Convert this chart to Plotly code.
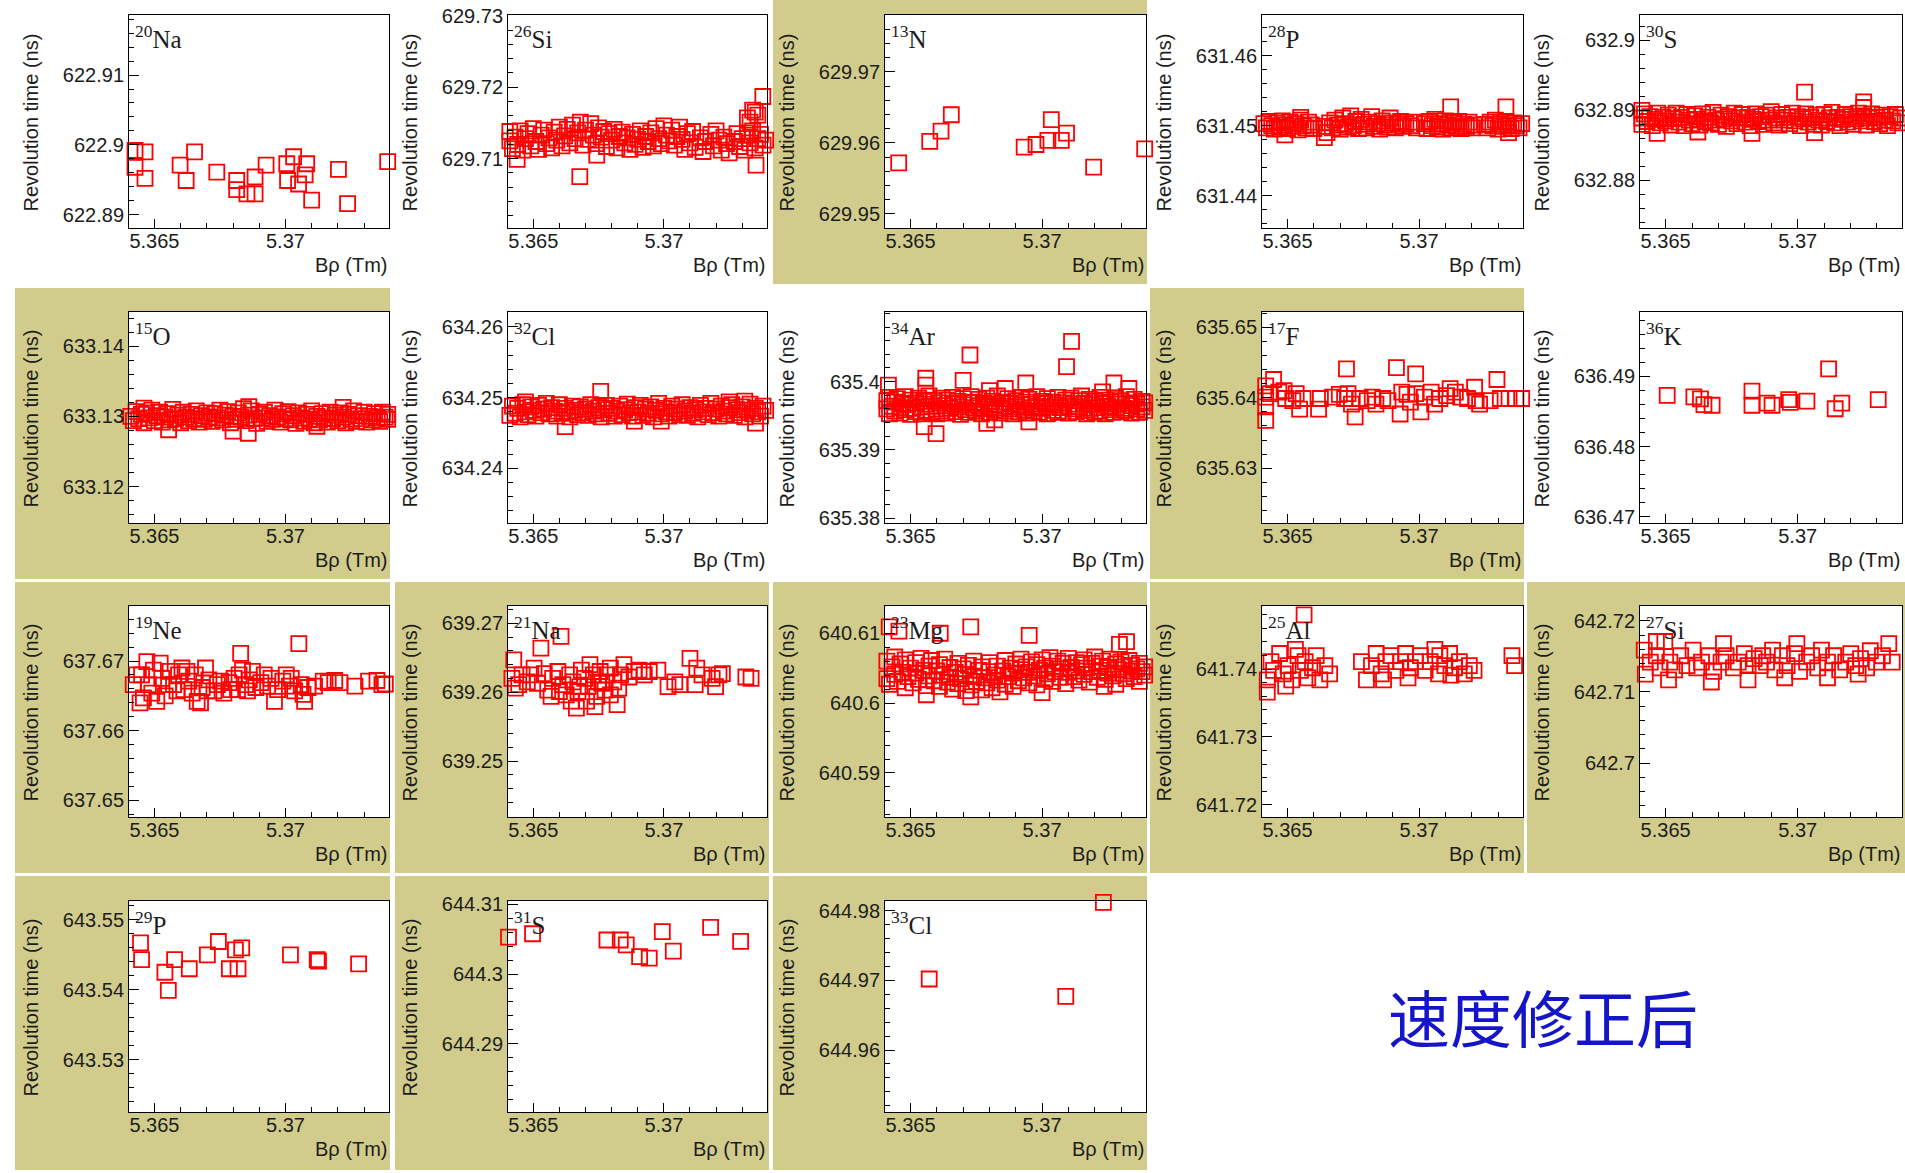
import numpy as np
import plotly.graph_objects as go

# ---------------------------------------------------------------------------
# Revolution time vs. B-rho for each nuclide (velocity-corrected)
# ---------------------------------------------------------------------------
BRHO_RANGE = [5.36403, 5.37395]
BRHO_TICKS = [5.365, 5.37]
BRHO_TICKTEXT = ["5.365", "5.37"]

MASS = ["20", "26", "13", "28", "30",
        "15", "32", "34", "17", "36",
        "19", "21", "23", "25", "27",
        "29", "31", "33"]
ELEMENT = ["Na", "Si", "N", "P", "S",
           "O", "Cl", "Ar", "F", "K",
           "Ne", "Na", "Mg", "Al", "Si",
           "P", "S", "Cl"]

Y_RANGES = [
    [622.8881, 622.9186], [629.7003, 629.7301], [629.948, 629.978], [631.4354, 631.4658], [632.8732, 632.9036],
    [633.1148, 633.1449], [634.2323, 634.2621], [635.3793, 635.4102], [635.6222, 635.6522], [636.4691, 636.4992],
    [637.6476, 637.6779], [639.2419, 639.2725], [640.5837, 640.6139], [641.7182, 641.7493], [642.6924, 642.7221],
    [643.5225, 643.5527], [644.2802, 644.3105], [644.9511, 644.9814],
]
Y_TICKTEXT = [
    ["622.89", "622.9", "622.91"], ["629.71", "629.72", "629.73"], ["629.95", "629.96", "629.97"],
    ["631.44", "631.45", "631.46"], ["632.88", "632.89", "632.9"],
    ["633.12", "633.13", "633.14"], ["634.24", "634.25", "634.26"], ["635.38", "635.39", "635.4"],
    ["635.63", "635.64", "635.65"], ["636.47", "636.48", "636.49"],
    ["637.65", "637.66", "637.67"], ["639.25", "639.26", "639.27"], ["640.59", "640.6", "640.61"],
    ["641.72", "641.73", "641.74"], ["642.7", "642.71", "642.72"],
    ["643.53", "643.54", "643.55"], ["644.29", "644.3", "644.31"], ["644.96", "644.97", "644.98"],
]

# pads drawn with the olive fill
OLIVE_PAD = [False, False, True, False, False,
             True, False, False, True, False,
             True, True, True, True, True,
             True, True, True]

NA20 = [(5.36426, 622.8992), (5.36464, 622.8990), (5.36426, 622.8968), (5.36464, 622.8952), (5.36598, 622.8971),
        (5.36621, 622.8949), (5.36653, 622.8990), (5.36738, 622.8961), (5.36814, 622.8949), (5.36814, 622.8936),
        (5.36853, 622.8930), (5.36884, 622.8930), (5.36884, 622.8954), (5.36926, 622.8971), (5.37005, 622.8973),
        (5.37031, 622.8983), (5.37008, 622.8949), (5.37050, 622.8944), (5.37081, 622.8973), (5.37075, 622.8957),
        (5.37100, 622.8921), (5.37202, 622.8965), (5.37237, 622.8916), (5.37390, 622.8976)]

SI26 = [(5.3641, 629.7125), (5.3641, 629.7138), (5.3642, 629.7114), (5.3643, 629.7130), (5.3644, 629.7120),
        (5.3645, 629.7139), (5.3646, 629.7112), (5.3647, 629.7128), (5.3648, 629.7135), (5.3649, 629.7118),
        (5.3650, 629.7142), (5.3651, 629.7124), (5.3652, 629.7113), (5.3653, 629.7133), (5.3654, 629.7140),
        (5.3655, 629.7121), (5.3656, 629.7129), (5.3657, 629.7115), (5.3658, 629.7137), (5.3659, 629.7126),
        (5.3660, 629.7144), (5.3661, 629.7118), (5.3662, 629.7132), (5.3663, 629.7141), (5.3664, 629.7122),
        (5.3665, 629.7147), (5.3666, 629.7128), (5.3667, 629.7136), (5.3668, 629.7151), (5.3669, 629.7119),
        (5.3670, 629.7140), (5.3671, 629.7127), (5.3672, 629.7149), (5.3673, 629.7133), (5.3674, 629.7121),
        (5.3675, 629.7143), (5.3676, 629.7130), (5.3677, 629.7138), (5.3678, 629.7117), (5.3679, 629.7135),
        (5.3680, 629.7126), (5.3681, 629.7141), (5.3682, 629.7115), (5.3683, 629.7131), (5.3684, 629.7137),
        (5.3685, 629.7122), (5.3686, 629.7129), (5.3687, 629.7113), (5.3688, 629.7134), (5.3689, 629.7120),
        (5.3690, 629.7127), (5.3691, 629.7139), (5.3692, 629.7116), (5.3693, 629.7131), (5.3694, 629.7124),
        (5.3695, 629.7136), (5.3696, 629.7118), (5.3697, 629.7142), (5.3698, 629.7128), (5.3699, 629.7121),
        (5.3700, 629.7146), (5.3701, 629.7133), (5.3702, 629.7125), (5.3703, 629.7140), (5.3704, 629.7119),
        (5.3705, 629.7131), (5.3706, 629.7144), (5.3707, 629.7127), (5.3708, 629.7113), (5.3709, 629.7135),
        (5.3710, 629.7122), (5.3711, 629.7138), (5.3712, 629.7116), (5.3714, 629.7129), (5.3715, 629.7110),
        (5.3716, 629.7124), (5.3718, 629.7134), (5.3719, 629.7118), (5.3720, 629.7139), (5.3721, 629.7126),
        (5.3722, 629.7112), (5.3723, 629.7130), (5.3724, 629.7121), (5.3725, 629.7108), (5.3727, 629.7124),
        (5.3728, 629.7135), (5.3729, 629.7117), (5.3730, 629.7128), (5.3731, 629.7112), (5.3732, 629.7133),
        (5.3733, 629.7122), (5.3734, 629.7139), (5.3735, 629.7115), (5.3736, 629.7128), (5.3737, 629.7134),
        (5.3738, 629.7119), (5.3739, 629.7126),
        (5.36438, 629.7099), (5.36678, 629.7075), (5.36743, 629.7105), (5.37353, 629.7091), (5.37379, 629.7187),
        (5.3734, 629.7168), (5.3736, 629.7161), (5.3732, 629.7157), (5.3735, 629.7165), (5.3733, 629.7151)]

N13 = [(5.36455, 629.95718), (5.36573, 629.96019), (5.36616, 629.96165), (5.36655, 629.96395),
       (5.36932, 629.95939), (5.36977, 629.95976), (5.37022, 629.96033), (5.37035, 629.96325),
       (5.37073, 629.96033), (5.37093, 629.96136), (5.37196, 629.95656), (5.37390, 629.95915)]

P28 = [(5.3641, 631.4503), (5.3642, 631.4497), (5.3643, 631.4506), (5.3644, 631.4500), (5.3645, 631.4495),
       (5.3646, 631.4504), (5.3647, 631.4498), (5.3648, 631.4507), (5.3649, 631.4501), (5.3650, 631.4496),
       (5.3651, 631.4505), (5.3652, 631.4499), (5.3653, 631.4503), (5.3654, 631.4494), (5.3655, 631.4508),
       (5.3656, 631.4500), (5.3657, 631.4497), (5.3658, 631.4505), (5.3659, 631.4501), (5.3660, 631.4496),
       (5.3649, 631.4487), (5.3655, 631.4512),
       (5.3664, 631.4499), (5.3665, 631.4490), (5.3666, 631.4504), (5.3667, 631.4497), (5.3668, 631.4508),
       (5.3669, 631.4501), (5.3670, 631.4495), (5.3671, 631.4511), (5.3672, 631.4503), (5.3673, 631.4498),
       (5.3674, 631.4514), (5.3675, 631.4500), (5.3676, 631.4506), (5.3677, 631.4496), (5.3678, 631.4509),
       (5.3679, 631.4502), (5.3680, 631.4497), (5.3681, 631.4505), (5.3682, 631.4513), (5.3683, 631.4499),
       (5.3684, 631.4503), (5.3685, 631.4495), (5.3686, 631.4507), (5.3687, 631.4501), (5.3688, 631.4498),
       (5.3689, 631.4511), (5.3690, 631.4504), (5.3691, 631.4497), (5.3692, 631.4502), (5.3693, 631.4506),
       (5.3694, 631.4499), (5.3695, 631.4503), (5.3697, 631.4500), (5.3698, 631.4505), (5.3699, 631.4497),
       (5.3664, 631.4483),
       (5.3702, 631.4503), (5.3703, 631.4496), (5.3704, 631.4506), (5.3705, 631.4500), (5.3706, 631.4509),
       (5.3707, 631.4498), (5.3708, 631.4503), (5.3709, 631.4495), (5.3710, 631.4507), (5.3711, 631.4501),
       (5.3712, 631.4497), (5.3713, 631.4504), (5.3714, 631.4499), (5.3715, 631.4506), (5.3716, 631.4496),
       (5.3717, 631.4502), (5.3718, 631.4499), (5.3719, 631.4505), (5.3720, 631.4497), (5.3721, 631.4501),
       (5.3712, 631.4527),
       (5.3725, 631.4502), (5.3726, 631.4497), (5.3727, 631.4505), (5.3728, 631.4500), (5.3729, 631.4508),
       (5.3730, 631.4495), (5.3731, 631.4503), (5.3732, 631.4499), (5.3733, 631.4506), (5.3734, 631.4501),
       (5.3735, 631.4496), (5.3736, 631.4504), (5.3737, 631.4500), (5.3738, 631.4497), (5.3739, 631.4503),
       (5.3733, 631.4527), (5.3734, 631.4490)]

S30 = [(5.3641, 632.8889), (5.3641, 632.8880), (5.3642, 632.8895), (5.3643, 632.8884), (5.3644, 632.8891),
       (5.3645, 632.8878), (5.3646, 632.8887), (5.3647, 632.8896), (5.3648, 632.8882), (5.3649, 632.8890),
       (5.3650, 632.8885), (5.3651, 632.8893), (5.3652, 632.8879), (5.3653, 632.8888), (5.3654, 632.8896),
       (5.3655, 632.8883), (5.3656, 632.8890), (5.3657, 632.8878), (5.3658, 632.8894), (5.3659, 632.8886),
       (5.3660, 632.8881), (5.3661, 632.8892), (5.3662, 632.8887), (5.3663, 632.8879), (5.3664, 632.8895),
       (5.3665, 632.8884), (5.3666, 632.8890), (5.3667, 632.8882), (5.3668, 632.8897), (5.3669, 632.8886),
       (5.3670, 632.8880), (5.3671, 632.8893), (5.3672, 632.8888), (5.3673, 632.8877), (5.3674, 632.8891),
       (5.3675, 632.8885), (5.3676, 632.8896), (5.3677, 632.8881), (5.3678, 632.8889), (5.3679, 632.8894),
       (5.3680, 632.8883), (5.3681, 632.8890), (5.3682, 632.8878), (5.3683, 632.8887), (5.3684, 632.8895),
       (5.3685, 632.8884), (5.3686, 632.8891), (5.3687, 632.8880), (5.3688, 632.8893), (5.3689, 632.8886),
       (5.3690, 632.8898), (5.3691, 632.8882), (5.3692, 632.8889), (5.3693, 632.8879), (5.3694, 632.8894),
       (5.3695, 632.8886), (5.3696, 632.8890), (5.3697, 632.8881), (5.3698, 632.8896), (5.3699, 632.8885),
       (5.3700, 632.8891), (5.3701, 632.8878), (5.3702, 632.8888), (5.3703, 632.8895), (5.3704, 632.8883),
       (5.3705, 632.8890), (5.3706, 632.8880), (5.3707, 632.8893), (5.3708, 632.8886), (5.3709, 632.8879),
       (5.3710, 632.8894), (5.3711, 632.8884), (5.3712, 632.8889), (5.3713, 632.8897), (5.3714, 632.8882),
       (5.3715, 632.8890), (5.3716, 632.8878), (5.3717, 632.8887), (5.3718, 632.8894), (5.3719, 632.8883),
       (5.3720, 632.8891), (5.3721, 632.8880), (5.3722, 632.8888), (5.3723, 632.8896), (5.3724, 632.8885),
       (5.3725, 632.8892), (5.3726, 632.8879), (5.3727, 632.8889), (5.3728, 632.8895), (5.3729, 632.8884),
       (5.3730, 632.8890), (5.3731, 632.8881), (5.3732, 632.8893), (5.3733, 632.8886), (5.3734, 632.8878),
       (5.3735, 632.8891), (5.3736, 632.8885), (5.3737, 632.8894), (5.3738, 632.8882), (5.3739, 632.8889),
       (5.37026, 632.8926), (5.3725, 632.8912), (5.3725, 632.8904), (5.36468, 632.8867), (5.36622, 632.8869),
       (5.36827, 632.8867), (5.37064, 632.8868), (5.3641, 632.8900)]

O15 = [(5.3641, 633.1300), (5.3642, 633.1294), (5.3643, 633.1307), (5.3644, 633.1297), (5.3645, 633.1303),
       (5.3646, 633.1291), (5.3647, 633.1305), (5.3648, 633.1298), (5.3649, 633.1309), (5.3650, 633.1294),
       (5.3651, 633.1301), (5.3652, 633.1306), (5.3653, 633.1292), (5.3654, 633.1299), (5.3655, 633.1304),
       (5.3656, 633.1295), (5.3657, 633.1310), (5.3658, 633.1297), (5.3659, 633.1302), (5.3660, 633.1291),
       (5.3661, 633.1306), (5.3662, 633.1299), (5.3663, 633.1294), (5.3664, 633.1303), (5.3665, 633.1297),
       (5.3666, 633.1308), (5.3667, 633.1292), (5.3668, 633.1301), (5.3669, 633.1296), (5.3670, 633.1305),
       (5.3671, 633.1299), (5.3672, 633.1293), (5.3673, 633.1304), (5.3674, 633.1298), (5.3675, 633.1309),
       (5.3676, 633.1295), (5.3677, 633.1302), (5.3678, 633.1307), (5.3679, 633.1291), (5.3680, 633.1300),
       (5.3681, 633.1296), (5.3682, 633.1305), (5.3683, 633.1299), (5.3684, 633.1311), (5.3685, 633.1294),
       (5.3686, 633.1302), (5.3687, 633.1308), (5.3688, 633.1297), (5.3689, 633.1290), (5.3690, 633.1303),
       (5.3691, 633.1298), (5.3692, 633.1306), (5.3693, 633.1293), (5.3694, 633.1301), (5.3695, 633.1296),
       (5.3696, 633.1309), (5.3697, 633.1299), (5.3698, 633.1292), (5.3699, 633.1304), (5.3700, 633.1297),
       (5.3701, 633.1307), (5.3702, 633.1295), (5.3703, 633.1301), (5.3704, 633.1290), (5.3705, 633.1305),
       (5.3706, 633.1298), (5.3707, 633.1293), (5.3708, 633.1303), (5.3709, 633.1296), (5.3710, 633.1308),
       (5.3711, 633.1291), (5.3712, 633.1300), (5.3713, 633.1295), (5.3714, 633.1304), (5.3715, 633.1298),
       (5.3716, 633.1292), (5.3717, 633.1306), (5.3718, 633.1297), (5.3719, 633.1302), (5.3720, 633.1294),
       (5.3721, 633.1305), (5.3722, 633.1299), (5.3723, 633.1291), (5.3724, 633.1303), (5.3725, 633.1296),
       (5.3726, 633.1308), (5.3727, 633.1293), (5.3728, 633.1301), (5.3729, 633.1297), (5.3730, 633.1306),
       (5.3731, 633.1292), (5.3732, 633.1300), (5.3733, 633.1295), (5.3734, 633.1304), (5.3735, 633.1298),
       (5.3736, 633.1293), (5.3737, 633.1306), (5.3738, 633.1299), (5.3739, 633.1296), (5.3739, 633.1303),
       (5.36554, 633.1281), (5.36858, 633.1276), (5.3680, 633.1279), (5.3686, 633.1314), (5.3646, 633.1312),
       (5.3722, 633.1313), (5.3712, 633.1286)]

CL32 = [(5.3640, 634.2481), (5.3641, 634.2475), (5.3642, 634.2488), (5.3643, 634.2478), (5.3644, 634.2485),
        (5.3645, 634.2473), (5.3646, 634.2490), (5.3647, 634.2480), (5.3648, 634.2476), (5.3649, 634.2487),
        (5.3650, 634.2482), (5.3651, 634.2474), (5.3652, 634.2489), (5.3653, 634.2479), (5.3654, 634.2484),
        (5.3655, 634.2492), (5.3656, 634.2477), (5.3657, 634.2486), (5.3658, 634.2481), (5.3659, 634.2474),
        (5.3660, 634.2490), (5.3661, 634.2478), (5.3662, 634.2485), (5.3663, 634.2480), (5.3664, 634.2473),
        (5.3665, 634.2488), (5.3666, 634.2482), (5.3667, 634.2476), (5.3668, 634.2487), (5.3669, 634.2479),
        (5.3670, 634.2484), (5.3671, 634.2475), (5.3672, 634.2490), (5.3673, 634.2481), (5.3674, 634.2477),
        (5.3675, 634.2486), (5.3676, 634.2473), (5.3677, 634.2483), (5.3678, 634.2489), (5.3679, 634.2478),
        (5.3680, 634.2485), (5.3681, 634.2474), (5.3682, 634.2481), (5.3683, 634.2488), (5.3684, 634.2476),
        (5.3685, 634.2483), (5.3686, 634.2491), (5.3687, 634.2479), (5.3688, 634.2474), (5.3689, 634.2486),
        (5.3690, 634.2480), (5.3691, 634.2489), (5.3692, 634.2475), (5.3693, 634.2484), (5.3694, 634.2478),
        (5.3695, 634.2487), (5.3696, 634.2473), (5.3697, 634.2482), (5.3698, 634.2492), (5.3699, 634.2477),
        (5.3700, 634.2485), (5.3701, 634.2480), (5.3702, 634.2474), (5.3703, 634.2488), (5.3704, 634.2479),
        (5.3705, 634.2484), (5.3706, 634.2476), (5.3707, 634.2490), (5.3708, 634.2481), (5.3709, 634.2475),
        (5.3710, 634.2486), (5.3711, 634.2478), (5.3712, 634.2483), (5.3713, 634.2473), (5.3714, 634.2489),
        (5.3715, 634.2480), (5.3716, 634.2485), (5.3717, 634.2476), (5.3718, 634.2492), (5.3719, 634.2479),
        (5.3720, 634.2484), (5.3721, 634.2474), (5.3722, 634.2488), (5.3723, 634.2481), (5.3724, 634.2477),
        (5.3725, 634.2486), (5.3726, 634.2490), (5.3727, 634.2475), (5.3728, 634.2483), (5.3729, 634.2479),
        (5.3730, 634.2487), (5.3731, 634.2473), (5.3732, 634.2482), (5.3733, 634.2491), (5.3734, 634.2477),
        (5.3735, 634.2485), (5.3736, 634.2480), (5.3737, 634.2474), (5.3738, 634.2488), (5.3739, 634.2482),
        (5.36758, 634.2509), (5.36622, 634.2459), (5.37351, 634.2464), (5.36887, 634.2467), (5.3699, 634.2467),
        (5.3647, 634.2494), (5.3725, 634.2494), (5.3731, 634.2495)]

AR34 = [(5.3640, 635.3966), (5.3640, 635.3955), (5.3641, 635.3972), (5.3641, 635.3960), (5.3642, 635.3977),
        (5.3642, 635.3953), (5.3643, 635.3964), (5.3644, 635.3970), (5.3644, 635.3957), (5.3645, 635.3975),
        (5.3646, 635.3962), (5.3646, 635.3954), (5.3647, 635.3968), (5.3648, 635.3978), (5.3648, 635.3959),
        (5.3649, 635.3966), (5.3650, 635.3952), (5.3650, 635.3973), (5.3651, 635.3961), (5.3652, 635.3969),
        (5.3652, 635.3956), (5.3653, 635.3976), (5.3654, 635.3963), (5.3654, 635.3953), (5.3655, 635.3971),
        (5.3656, 635.3958), (5.3656, 635.3967), (5.3657, 635.3979), (5.3658, 635.3955), (5.3658, 635.3964),
        (5.3659, 635.3972), (5.3660, 635.3960), (5.3660, 635.3953), (5.3661, 635.3969), (5.3662, 635.3976),
        (5.3662, 635.3957), (5.3663, 635.3965), (5.3664, 635.3954), (5.3664, 635.3973), (5.3665, 635.3961),
        (5.3666, 635.3968), (5.3666, 635.3977), (5.3667, 635.3956), (5.3668, 635.3963), (5.3668, 635.3971),
        (5.3669, 635.3952), (5.3670, 635.3966), (5.3670, 635.3975), (5.3671, 635.3959), (5.3672, 635.3969),
        (5.3672, 635.3955), (5.3673, 635.3978), (5.3674, 635.3962), (5.3674, 635.3970), (5.3675, 635.3957),
        (5.3676, 635.3965), (5.3676, 635.3974), (5.3677, 635.3953), (5.3678, 635.3968), (5.3678, 635.3960),
        (5.3679, 635.3976), (5.3680, 635.3963), (5.3680, 635.3955), (5.3681, 635.3971), (5.3682, 635.3958),
        (5.3682, 635.3967), (5.3683, 635.3979), (5.3684, 635.3961), (5.3684, 635.3954), (5.3685, 635.3970),
        (5.3686, 635.3964), (5.3686, 635.3957), (5.3687, 635.3975), (5.3688, 635.3960), (5.3688, 635.3968),
        (5.3689, 635.3953), (5.3690, 635.3972), (5.3690, 635.3963), (5.3691, 635.3956), (5.3692, 635.3977),
        (5.3692, 635.3966), (5.3693, 635.3959), (5.3694, 635.3970), (5.3694, 635.3954), (5.3695, 635.3974),
        (5.3696, 635.3962), (5.3696, 635.3967), (5.3697, 635.3957), (5.3698, 635.3978), (5.3698, 635.3964),
        (5.3699, 635.3955), (5.3700, 635.3971), (5.3700, 635.3961), (5.3701, 635.3968), (5.3702, 635.3953),
        (5.3702, 635.3975), (5.3703, 635.3963), (5.3704, 635.3958), (5.3704, 635.3970), (5.3705, 635.3966),
        (5.3706, 635.3955), (5.3706, 635.3977), (5.3707, 635.3962), (5.3708, 635.3969), (5.3708, 635.3957),
        (5.3709, 635.3973), (5.3710, 635.3964), (5.3710, 635.3954), (5.3711, 635.3976), (5.3712, 635.3960),
        (5.3712, 635.3967), (5.3713, 635.3956), (5.3714, 635.3972), (5.3714, 635.3963), (5.3715, 635.3979),
        (5.3716, 635.3958), (5.3716, 635.3968), (5.3717, 635.3953), (5.3718, 635.3974), (5.3718, 635.3961),
        (5.3719, 635.3966), (5.3720, 635.3955), (5.3720, 635.3971), (5.3721, 635.3962), (5.3722, 635.3977),
        (5.3722, 635.3957), (5.3723, 635.3968), (5.3724, 635.3953), (5.3724, 635.3973), (5.3725, 635.3964),
        (5.3726, 635.3959), (5.3726, 635.3970), (5.3727, 635.3955), (5.3728, 635.3976), (5.3728, 635.3962),
        (5.3729, 635.3967), (5.3730, 635.3956), (5.3730, 635.3972), (5.3731, 635.3961), (5.3732, 635.3978),
        (5.3732, 635.3958), (5.3733, 635.3969), (5.3734, 635.3954), (5.3734, 635.3965), (5.3735, 635.3974),
        (5.3736, 635.3960), (5.3736, 635.3967), (5.3737, 635.3955), (5.3738, 635.3971), (5.3738, 635.3963),
        (5.3739, 635.3958), (5.3739, 635.3969),
        (5.36726, 635.4039), (5.37112, 635.4059), (5.37093, 635.4022), (5.36700, 635.4002), (5.36558, 635.4005),
        (5.36552, 635.3934), (5.36597, 635.3924), (5.36938, 635.3998), (5.37273, 635.3998), (5.36416, 635.3995),
        (5.37330, 635.3990), (5.36558, 635.3995), (5.36790, 635.3939), (5.36820, 635.3944), (5.36800, 635.3987),
        (5.36860, 635.3990), (5.37230, 635.3985), (5.36950, 635.3941)]

F17 = [(5.36417, 635.6417), (5.36447, 635.6426), (5.36417, 635.6401), (5.36417, 635.6387), (5.36417, 635.6368),
       (5.36434, 635.6406), (5.36467, 635.6408), (5.36493, 635.6399), (5.36520, 635.6396), (5.36487, 635.6410),
       (5.36533, 635.6406), (5.36546, 635.6384), (5.36559, 635.6399), (5.36618, 635.6384), (5.36625, 635.6399),
       (5.36671, 635.6401), (5.36697, 635.6405), (5.36717, 635.6399), (5.36724, 635.6441), (5.36730, 635.6406),
       (5.36743, 635.6391), (5.36757, 635.6373), (5.36776, 635.6399), (5.36803, 635.6396), (5.36822, 635.6401),
       (5.36836, 635.6391), (5.36862, 635.6399), (5.36882, 635.6396), (5.36914, 635.6443), (5.36928, 635.6377),
       (5.36934, 635.6408), (5.36954, 635.6405), (5.36967, 635.6394), (5.36987, 635.6434), (5.36987, 635.6406),
       (5.37007, 635.6380), (5.37020, 635.6401), (5.37046, 635.6408), (5.37059, 635.6391), (5.37079, 635.6399),
       (5.37105, 635.6403), (5.37118, 635.6413), (5.37138, 635.6408), (5.37158, 635.6401), (5.37184, 635.6399),
       (5.37211, 635.6415), (5.37217, 635.6396), (5.37230, 635.6391), (5.37270, 635.6396), (5.37296, 635.6426),
       (5.37309, 635.6399), (5.37342, 635.6399), (5.37368, 635.6399), (5.37390, 635.6399)]

K36 = [(5.36506, 636.4873), (5.36607, 636.4871), (5.36632, 636.4868), (5.36645, 636.4860), (5.36676, 636.4859),
       (5.36827, 636.4879), (5.36827, 636.4859), (5.36884, 636.4862), (5.36903, 636.4859), (5.36966, 636.4867),
       (5.36972, 636.4863), (5.37035, 636.4865), (5.37117, 636.4911), (5.37142, 636.4854), (5.37167, 636.4862),
       (5.37305, 636.4867)]

NE19 = [(5.36400, 637.6648), (5.36445, 637.6640), (5.36451, 637.6680), (5.36471, 637.6699), (5.36477, 637.6666),
        (5.36490, 637.6654), (5.36496, 637.6687), (5.36522, 637.6697), (5.36528, 637.6675), (5.36541, 637.6650),
        (5.36560, 637.6685), (5.36573, 637.6666), (5.36592, 637.6680), (5.36605, 637.6690), (5.36612, 637.6659),
        (5.36631, 637.6671), (5.36644, 637.6654), (5.36656, 637.6680), (5.36676, 637.6640), (5.36682, 637.6662),
        (5.36695, 637.6690), (5.36708, 637.6673), (5.36727, 637.6657), (5.36740, 637.6666), (5.36765, 637.6654),
        (5.36785, 637.6669), (5.36804, 637.6675), (5.36817, 637.6659), (5.36829, 637.6711), (5.36836, 637.6687),
        (5.36849, 637.6666), (5.36862, 637.6673), (5.36874, 637.6685), (5.36887, 637.6662), (5.36906, 637.6669),
        (5.36932, 637.6664), (5.36945, 637.6675), (5.36958, 637.6642), (5.36970, 637.6659), (5.36990, 637.6671),
        (5.37003, 637.6680), (5.37015, 637.6664), (5.37035, 637.6657), (5.37051, 637.6725), (5.37060, 637.6666),
        (5.37073, 637.6642), (5.37086, 637.6662), (5.37111, 637.6664), (5.37144, 637.6671), (5.37163, 637.6669),
        (5.37188, 637.6672), (5.37208, 637.6669), (5.37265, 637.6664), (5.37317, 637.6671), (5.37349, 637.6672),
        (5.37368, 637.6666), (5.37381, 637.6667),
        (5.36419, 637.6666), (5.36432, 637.6680), (5.36458, 637.6647), (5.36509, 637.6642), (5.36554, 637.6666),
        (5.36586, 637.6657), (5.36624, 637.6685), (5.36663, 637.6642), (5.36701, 637.6657), (5.36753, 637.6671),
        (5.36791, 637.6659), (5.36823, 637.6680), (5.36855, 637.6657), (5.36919, 637.6680), (5.37022, 637.6675),
        (5.37067, 637.6652)]

NA21 = [(5.36425, 639.2647), (5.36418, 639.2620), (5.36431, 639.2606), (5.36457, 639.2625), (5.36477, 639.2615),
        (5.36503, 639.2635), (5.36529, 639.2664), (5.36516, 639.2613), (5.36542, 639.2627), (5.36555, 639.2603),
        (5.36574, 639.2620), (5.36594, 639.2630), (5.36606, 639.2681), (5.36613, 639.2611), (5.36626, 639.2596),
        (5.36639, 639.2625), (5.36652, 639.2615), (5.36665, 639.2577), (5.36671, 639.2601), (5.36684, 639.2632),
        (5.36697, 639.2620), (5.36710, 639.2608), (5.36717, 639.2640), (5.36730, 639.2625), (5.36736, 639.2579),
        (5.36743, 639.2594), (5.36756, 639.2630), (5.36762, 639.2613), (5.36775, 639.2603), (5.36782, 639.2625),
        (5.36795, 639.2635), (5.36808, 639.2615), (5.36821, 639.2582), (5.36834, 639.2625), (5.36847, 639.2640),
        (5.36866, 639.2622), (5.36886, 639.2630), (5.36905, 639.2632), (5.36925, 639.2625), (5.36944, 639.2630),
        (5.36977, 639.2632), (5.37016, 639.2608), (5.37042, 639.2615), (5.37061, 639.2611), (5.37100, 639.2649),
        (5.37120, 639.2611), (5.37126, 639.2635), (5.37146, 639.2625), (5.37185, 639.2620), (5.37198, 639.2608),
        (5.37211, 639.2625), (5.37224, 639.2627), (5.37314, 639.2622), (5.37334, 639.2620),
        (5.36444, 639.2611), (5.36490, 639.2625), (5.36568, 639.2594), (5.36600, 639.2601), (5.36645, 639.2587),
        (5.36678, 639.2608), (5.36704, 639.2587), (5.36749, 639.2615), (5.36795, 639.2596), (5.36827, 639.2606)]

MG23 = [(5.3640, 640.6048), (5.3641, 640.6035), (5.3641, 640.6060), (5.3642, 640.6027), (5.3643, 640.6052),
        (5.3644, 640.6041), (5.3644, 640.6066), (5.3645, 640.6031), (5.3646, 640.6056), (5.3647, 640.6044),
        (5.3648, 640.6022), (5.3648, 640.6062), (5.3649, 640.6038), (5.3650, 640.6050), (5.3651, 640.6029),
        (5.3652, 640.6058), (5.3652, 640.6043), (5.3653, 640.6034), (5.3654, 640.6064), (5.3655, 640.6047),
        (5.3656, 640.6025), (5.3657, 640.6053), (5.3657, 640.6039), (5.3658, 640.6061), (5.3659, 640.6032),
        (5.3660, 640.6046), (5.3661, 640.6055), (5.3661, 640.6024), (5.3662, 640.6040), (5.3663, 640.6063),
        (5.3664, 640.6030), (5.3665, 640.6051), (5.3665, 640.6037), (5.3666, 640.6020), (5.3667, 640.6044),
        (5.3668, 640.6057), (5.3668, 640.6028), (5.3669, 640.6035), (5.3670, 640.6049), (5.3671, 640.6018),
        (5.3671, 640.6041), (5.3672, 640.6054), (5.3673, 640.6026), (5.3674, 640.6038), (5.3674, 640.6060),
        (5.3675, 640.6031), (5.3676, 640.6047), (5.3677, 640.6019), (5.3677, 640.6052), (5.3678, 640.6036),
        (5.3679, 640.6029), (5.3680, 640.6045), (5.3680, 640.6058), (5.3681, 640.6022), (5.3682, 640.6040),
        (5.3683, 640.6033), (5.3683, 640.6053), (5.3684, 640.6016), (5.3685, 640.6046), (5.3686, 640.6027),
        (5.3686, 640.6061), (5.3687, 640.6038), (5.3688, 640.6050), (5.3689, 640.6024), (5.3689, 640.6043),
        (5.3690, 640.6056), (5.3691, 640.6032), (5.3692, 640.6048), (5.3692, 640.6063), (5.3693, 640.6036),
        (5.3694, 640.6052), (5.3695, 640.6029), (5.3695, 640.6044), (5.3696, 640.6059), (5.3697, 640.6039),
        (5.3698, 640.6055), (5.3698, 640.6026), (5.3699, 640.6047), (5.3700, 640.6062), (5.3701, 640.6034),
        (5.3701, 640.6050), (5.3702, 640.6042), (5.3703, 640.6065), (5.3704, 640.6031), (5.3704, 640.6053),
        (5.3705, 640.6045), (5.3706, 640.6060), (5.3707, 640.6037), (5.3707, 640.6049), (5.3708, 640.6057),
        (5.3709, 640.6028), (5.3710, 640.6044), (5.3710, 640.6064), (5.3711, 640.6051), (5.3712, 640.6038),
        (5.3713, 640.6058), (5.3713, 640.6046), (5.3714, 640.6033), (5.3715, 640.6055), (5.3716, 640.6062),
        (5.3716, 640.6041), (5.3717, 640.6050), (5.3718, 640.6030), (5.3719, 640.6057), (5.3719, 640.6045),
        (5.3720, 640.6066), (5.3721, 640.6037), (5.3722, 640.6053), (5.3722, 640.6047), (5.3723, 640.6060),
        (5.3724, 640.6034), (5.3725, 640.6051), (5.3725, 640.6043), (5.3726, 640.6063), (5.3727, 640.6039),
        (5.3728, 640.6056), (5.3728, 640.6027), (5.3729, 640.6048), (5.3730, 640.6059), (5.3731, 640.6042),
        (5.3731, 640.6052), (5.3732, 640.6035), (5.3733, 640.6061), (5.3734, 640.6046), (5.3734, 640.6054),
        (5.3735, 640.6038), (5.3736, 640.6049), (5.3737, 640.6057), (5.3737, 640.6031), (5.3738, 640.6045),
        (5.3739, 640.6052), (5.3739, 640.6040),
        (5.36419, 640.6109), (5.36456, 640.6103), (5.36613, 640.6100), (5.36729, 640.6109), (5.36951, 640.6097),
        (5.37294, 640.6084), (5.37321, 640.6088), (5.36729, 640.6009), (5.37236, 640.6024), (5.36560, 640.6012),
        (5.37000, 640.6015)]

AL25 = [(5.36423, 641.7384), (5.36423, 641.7366), (5.36437, 641.7411), (5.36447, 641.7398), (5.36470, 641.7423),
        (5.36484, 641.7393), (5.36502, 641.7405), (5.36516, 641.7384), (5.36540, 641.7420), (5.36549, 641.7398),
        (5.36567, 641.7411), (5.36577, 641.7387), (5.36595, 641.7402), (5.36609, 641.7420), (5.36623, 641.7384),
        (5.36642, 641.7405), (5.36660, 641.7393), (5.36563, 641.7480), (5.36493, 641.7375), (5.36530, 641.7429),
        (5.36781, 641.7411), (5.36800, 641.7384), (5.36819, 641.7405), (5.36837, 641.7423), (5.36856, 641.7393),
        (5.36874, 641.7411), (5.36893, 641.7420), (5.36912, 641.7398), (5.36930, 641.7411), (5.36949, 641.7423),
        (5.36967, 641.7402), (5.36986, 641.7411), (5.37005, 641.7420), (5.37023, 641.7398), (5.37042, 641.7411),
        (5.37060, 641.7429), (5.37079, 641.7420), (5.37098, 641.7405), (5.37116, 641.7423), (5.37135, 641.7402),
        (5.37153, 641.7411), (5.37172, 641.7393), (5.37191, 641.7405), (5.37209, 641.7398), (5.36865, 641.7384),
        (5.36958, 641.7387), (5.37074, 641.7393), (5.37121, 641.7391), (5.37353, 641.7420), (5.37363, 641.7405)]

SI27 = [(5.36419, 642.7159), (5.36423, 642.7125), (5.36442, 642.7142), (5.36465, 642.7151), (5.36479, 642.7134),
        (5.36497, 642.7171), (5.36516, 642.7142), (5.36534, 642.7131), (5.36557, 642.7151), (5.36581, 642.7137),
        (5.36604, 642.7159), (5.36618, 642.7134), (5.36636, 642.7142), (5.36664, 642.7151), (5.36682, 642.7129),
        (5.36710, 642.7142), (5.36729, 642.7151), (5.36757, 642.7134), (5.36775, 642.7142), (5.36798, 642.7154),
        (5.36812, 642.7137), (5.36835, 642.7147), (5.36858, 642.7137), (5.36868, 642.7151), (5.36882, 642.7142),
        (5.36905, 642.7159), (5.36914, 642.7131), (5.36942, 642.7151), (5.36960, 642.7137), (5.36988, 642.7154),
        (5.37007, 642.7129), (5.37034, 642.7142), (5.37053, 642.7151), (5.37076, 642.7134), (5.37090, 642.7159),
        (5.37113, 642.7142), (5.37136, 642.7151), (5.37159, 642.7131), (5.37182, 642.7142), (5.37201, 642.7154),
        (5.37220, 642.7137), (5.37238, 642.7147), (5.37261, 642.7134), (5.37275, 642.7158), (5.37298, 642.7142),
        (5.37321, 642.7151), (5.37345, 642.7168), (5.37358, 642.7142), (5.36511, 642.7117), (5.36673, 642.7114),
        (5.36812, 642.7117), (5.36951, 642.7120), (5.37113, 642.7120), (5.37229, 642.7125), (5.36465, 642.7171),
        (5.36719, 642.7168), (5.36997, 642.7168)]

P29 = [(5.36447, 643.5467), (5.36451, 643.5443), (5.36540, 643.5425), (5.36553, 643.5399), (5.36577, 643.5443),
       (5.36633, 643.5430), (5.36702, 643.5450), (5.36744, 643.5469), (5.36786, 643.5430), (5.36809, 643.5457),
       (5.36833, 643.5460), (5.36819, 643.5430), (5.37019, 643.5450), (5.37121, 643.5443), (5.37126, 643.5441),
       (5.37279, 643.5437)]

S31 = [(5.36405, 644.3053), (5.36497, 644.3058), (5.36782, 644.3049), (5.36833, 644.3049), (5.36856, 644.3042),
       (5.36907, 644.3025), (5.36944, 644.3023), (5.36994, 644.3061), (5.37036, 644.3033), (5.37179, 644.3067),
       (5.37294, 644.3047)]

CL33 = [(5.36571, 644.9702), (5.37090, 644.9677), (5.37233, 644.9812)]

DATA = [NA20, SI26, N13, P28, S30,
        O15, CL32, AR34, F17, K36,
        NE19, NA21, MG23, AL25, SI27,
        P29, S31, CL33]

# ---------------------------------------------------------------------------
# canvas geometry (pixels)
# ---------------------------------------------------------------------------
W, H = 1905, 1173
PAD_COLS = [(15, 390), (395, 769), (773, 1147), (1150, 1524), (1527, 1905)]
PAD_ROWS = [(0, 284), (288, 579), (582, 873), (876, 1170)]
FRAME_COLS = [(129, 389), (508, 767), (885, 1146), (1262, 1523), (1640, 1902)]
FRAME_ROWS = [(15, 228), (312, 523), (606, 817), (901, 1112)]

OLIVE = "#d2cc8c"
RED = "#ff0000"
TEXT = "#1c1c1c"
SANS = "Liberation Sans, Arial, sans-serif"
SERIF = "Liberation Serif, Times New Roman, serif"


def px(x):
    return x / W


def py(y):
    return 1 - y / H


fig = go.Figure()
shapes = []
annotations = []

x_minor = [round(5.364 + 0.001 * k, 3) for k in range(10)]

for i, pts in enumerate(DATA):
    r, c = divmod(i, 5)
    n = i + 1
    xs = "" if n == 1 else str(n)
    fl, fr = FRAME_COLS[c]
    ft, fb = FRAME_ROWS[r]
    pl, pr = PAD_COLS[c]
    pt, pb = PAD_ROWS[r]

    # pad fill, then the white frame area on top of it
    if OLIVE_PAD[i]:
        shapes.append(dict(type="rect", xref="paper", yref="paper", layer="below",
                           x0=px(pl), x1=px(pr), y0=py(pb), y1=py(pt),
                           fillcolor=OLIVE, line=dict(width=0)))
    shapes.append(dict(type="rect", xref="paper", yref="paper", layer="below",
                       x0=px(fl), x1=px(fr), y0=py(fb), y1=py(ft),
                       fillcolor="white", line=dict(width=0)))

    fig.add_trace(go.Scatter(
        x=[p[0] for p in pts], y=[p[1] for p in pts],
        mode="markers", xaxis="x" + xs, yaxis="y" + xs,
        cliponaxis=False, showlegend=False, hoverinfo="x+y",
        marker=dict(symbol="square-open", size=15, color=RED, line=dict(width=1.8, color=RED)),
    ))

    lo, hi = Y_RANGES[i]
    yt_text = Y_TICKTEXT[i]
    yt_vals = [float(t) for t in yt_text]
    y_minor = [v for v in np.round(np.arange(np.ceil(lo / 0.002) * 0.002, hi, 0.002), 4)]

    fig.layout["xaxis" + xs] = dict(
        domain=[px(fl), px(fr)], range=BRHO_RANGE, anchor="y" + xs, automargin=False,
        tickmode="array", tickvals=BRHO_TICKS, ticktext=BRHO_TICKTEXT,
        ticks="inside", ticklen=9, tickwidth=1, tickcolor="black", ticklabelstandoff=-5,
        minor=dict(tickmode="array", tickvals=x_minor, ticks="inside", ticklen=5,
                   tickwidth=1, tickcolor="black"),
        showline=True, linecolor="black", linewidth=1, mirror=True,
        showgrid=False, zeroline=False, fixedrange=True,
        tickfont=dict(family=SANS, size=20, color=TEXT),
    )
    fig.layout["yaxis" + xs] = dict(
        domain=[py(fb), py(ft)], range=[lo, hi], anchor="x" + xs, automargin=False,
        tickmode="array", tickvals=yt_vals, ticktext=yt_text,
        ticks="inside", ticklen=10, tickwidth=1, tickcolor="black",
        minor=dict(tickmode="array", tickvals=y_minor, ticks="inside", ticklen=5,
                   tickwidth=1, tickcolor="black"),
        showline=True, linecolor="black", linewidth=1, mirror=True,
        showgrid=False, zeroline=False, fixedrange=True,
        tickfont=dict(family=SANS, size=20, color=TEXT),
    )

    # nuclide label inside the frame
    annotations.append(dict(
        xref="paper", yref="paper", x=px(fl + 4), y=py(ft + 4),
        xanchor="left", yanchor="top", showarrow=False,
        text=f"<sup>{MASS[i]}</sup>{ELEMENT[i]}",
        font=dict(family=SERIF, size=25, color=TEXT),
    ))
    # axis titles
    annotations.append(dict(
        xref="paper", yref="paper", x=px(fr), y=py(fb + 37),
        xanchor="right", yanchor="middle", showarrow=False,
        text="Bρ (Tm)", font=dict(family=SANS, size=20, color=TEXT),
    ))
    annotations.append(dict(
        xref="paper", yref="paper", x=px(fl - 99), y=py((ft + fb) / 2 + 1),
        xanchor="center", yanchor="middle", showarrow=False, textangle=-90,
        text="Revolution time (ns)", font=dict(family=SANS, size=20, color=TEXT),
    ))

annotations.append(dict(
    xref="paper", yref="paper", x=px(1543), y=py(1016),
    xanchor="center", yanchor="middle", showarrow=False,
    text="速度修正后", font=dict(family="Noto Sans CJK SC", size=62, color="#1414c8"),
))

fig.update_layout(
    width=W, height=H, margin=dict(l=0, r=0, t=0, b=0, autoexpand=False),
    paper_bgcolor="white", plot_bgcolor="white",
    shapes=shapes, annotations=annotations, showlegend=False,
)

fig.write_html("out.html", config={"displayModeBar": False})
